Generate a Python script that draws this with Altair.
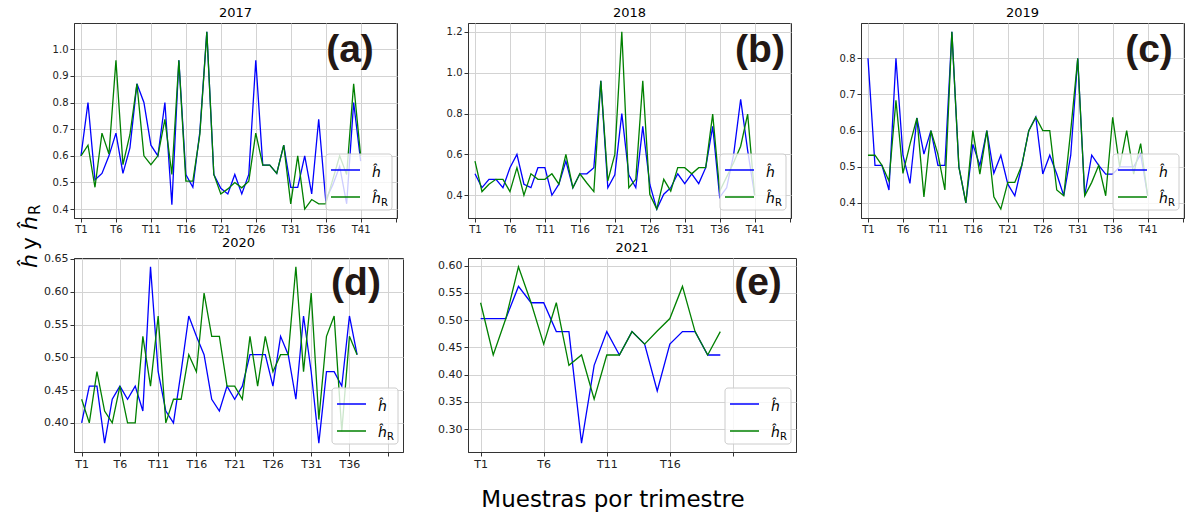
import altair as alt
import pandas as pd

# ---------------- data ----------------
years = ["2017", "2018", "2019", "2020", "2021"]
panel_tags = ["(a)", "(b)", "(c)", "(d)", "(e)"]

h_2017 = [0.60, 0.80, 0.51, 0.534, 0.60, 0.685, 0.534, 0.63, 0.87, 0.80,
          0.64, 0.60, 0.80, 0.417, 0.958, 0.53, 0.482, 0.69, 1.065, 0.53,
          0.478, 0.457, 0.53, 0.457, 0.53, 0.958, 0.565, 0.565, 0.534, 0.64,
          0.482, 0.482, 0.60, 0.457, 0.737, 0.435, 0.49, 0.56, 0.42, 0.80, 0.58]
hR_2017 = [0.60, 0.64, 0.482, 0.685, 0.607, 0.958, 0.567, 0.68, 0.87, 0.60,
           0.567, 0.60, 0.737, 0.53, 0.958, 0.505, 0.505, 0.68, 1.065, 0.53,
           0.457, 0.476, 0.50, 0.48, 0.505, 0.685, 0.565, 0.565, 0.534, 0.64,
           0.42, 0.60, 0.40, 0.436, 0.42, 0.42, 0.51, 0.60, 0.53, 0.87, 0.60]

h_2018 = [0.505, 0.437, 0.478, 0.478, 0.437, 0.535, 0.60, 0.454, 0.437, 0.535,
          0.535, 0.40, 0.454, 0.567, 0.437, 0.505, 0.505, 0.535, 0.96, 0.437,
          0.50, 0.80, 0.50, 0.437, 0.737, 0.454, 0.332, 0.405, 0.437, 0.505,
          0.457, 0.505, 0.457, 0.535, 0.737, 0.39, 0.437, 0.60, 0.87, 0.62, 0.40]
hR_2018 = [0.567, 0.418, 0.454, 0.478, 0.478, 0.418, 0.535, 0.40, 0.505, 0.478,
           0.478, 0.505, 0.454, 0.60, 0.437, 0.505, 0.46, 0.418, 0.96, 0.47,
           0.60, 1.20, 0.437, 0.478, 0.96, 0.405, 0.332, 0.478, 0.42, 0.535,
           0.535, 0.505, 0.535, 0.535, 0.797, 0.42, 0.49, 0.56, 0.64, 0.797, 0.40]

h_2019 = [0.80, 0.504, 0.504, 0.436, 0.80, 0.532, 0.454, 0.635, 0.535, 0.60,
          0.504, 0.504, 0.873, 0.50, 0.40, 0.562, 0.504, 0.60, 0.482, 0.532,
          0.452, 0.42, 0.504, 0.60, 0.637, 0.48, 0.532, 0.48, 0.42, 0.532,
          0.80, 0.42, 0.532, 0.504, 0.48, 0.48, 0.50, 0.50, 0.50, 0.535, 0.42]
hR_2019 = [0.532, 0.532, 0.504, 0.461, 0.684, 0.482, 0.562, 0.635, 0.417, 0.60,
           0.535, 0.436, 0.873, 0.50, 0.40, 0.60, 0.48, 0.60, 0.417, 0.383,
           0.457, 0.457, 0.504, 0.60, 0.637, 0.60, 0.60, 0.436, 0.42, 0.60,
           0.80, 0.42, 0.457, 0.504, 0.42, 0.637, 0.50, 0.60, 0.48, 0.564, 0.42]

h_2020 = [0.40, 0.456, 0.456, 0.369, 0.436, 0.456, 0.436, 0.456, 0.418, 0.638,
          0.478, 0.418, 0.40, 0.478, 0.563, 0.532, 0.504, 0.436, 0.418, 0.456,
          0.436, 0.456, 0.504, 0.504, 0.504, 0.456, 0.532, 0.504, 0.436, 0.563,
          0.478, 0.369, 0.478, 0.478, 0.456, 0.563, 0.504]
hR_2020 = [0.436, 0.40, 0.478, 0.418, 0.40, 0.456, 0.40, 0.40, 0.532, 0.456,
           0.563, 0.40, 0.436, 0.436, 0.504, 0.478, 0.598, 0.532, 0.532, 0.456,
           0.456, 0.436, 0.532, 0.456, 0.532, 0.478, 0.504, 0.504, 0.638, 0.478,
           0.598, 0.405, 0.532, 0.563, 0.387, 0.532, 0.504]

h_2021 = [0.503, 0.503, 0.503, 0.562, 0.532, 0.532, 0.479, 0.479, 0.274, 0.417,
          0.479, 0.436, 0.479, 0.456, 0.37, 0.456, 0.479, 0.479, 0.436, 0.436]
hR_2021 = [0.532, 0.436, 0.503, 0.598, 0.532, 0.456, 0.532, 0.417, 0.436, 0.355,
           0.436, 0.436, 0.479, 0.456, 0.48, 0.503, 0.562, 0.479, 0.436, 0.479]

yticks_2017 = [0.4, 0.5, 0.6, 0.7, 0.8, 0.9, 1.0]
yticks_2018 = [0.4, 0.6, 0.8, 1.0, 1.2]
yticks_2019 = [0.4, 0.5, 0.6, 0.7, 0.8]
yticks_2020 = [0.40, 0.45, 0.50, 0.55, 0.60, 0.65]
yticks_2021 = [0.30, 0.35, 0.40, 0.45, 0.50, 0.55, 0.60]

legend_h = "ĥ"
legend_sub = "R"
x_title = "Muestras por trimestre"
y_title_parts = ["ĥ", "y", "ĥ", "R"]

BLUE = "#0000ff"
GREEN = "#008000"
FONT = "DejaVu Sans"
one = pd.DataFrame({"k": [0]})


def deco_text(s, x, y, **kw):
    return alt.Chart(one).mark_text(text=s, **kw).encode(x=alt.value(x), y=alt.value(y))


def panel(year, tag, h, hr, W, H, xmax, xlast, yticks, yfmt, tag_x, tag_y, lab_size,
          extra=None):
    n = len(h)
    df = pd.DataFrame({"t": list(range(1, n + 1)), "h": h, "hR": hr})
    lo, hi = min(h + hr), max(h + hr)
    m = 0.05 * (hi - lo)
    xenc = alt.X(
        "t:Q",
        title=None,
        scale=alt.Scale(domain=[0, xmax], nice=False, zero=False),
        axis=alt.Axis(values=list(range(1, xlast + 1, 5)), labelFontSize=lab_size,
                      labelExpr=f"datum.value >= {xlast} ? '' : 'T' + datum.value"),
    )
    yscale = alt.Scale(domain=[lo - m, hi + m], nice=False, zero=False)
    yaxis = alt.Axis(values=yticks, format=yfmt, labelFontSize=lab_size)
    blue = alt.Chart(df).mark_line(color=BLUE, strokeWidth=1.3).encode(
        x=xenc, y=alt.Y("h:Q", title=None, scale=yscale, axis=yaxis))
    green = alt.Chart(df).mark_line(color=GREEN, strokeWidth=1.3).encode(
        x=xenc, y=alt.Y("hR:Q", title=None, scale=yscale, axis=yaxis))

    box = alt.Chart(one).mark_rect(fill="white", fillOpacity=0.8, stroke="#cccccc",
                                   strokeWidth=1, cornerRadius=3).encode(
        x=alt.value(W - 71), x2=alt.value(W - 5), y=alt.value(H - 64), y2=alt.value(H - 8))
    lb = alt.Chart(one).mark_rule(color=BLUE, strokeWidth=1.5).encode(
        x=alt.value(W - 66), x2=alt.value(W - 37), y=alt.value(H - 48))
    lg = alt.Chart(one).mark_rule(color=GREEN, strokeWidth=1.5).encode(
        x=alt.value(W - 66), x2=alt.value(W - 37), y=alt.value(H - 21))
    t1 = deco_text(legend_h, W - 25, H - 41, align="left", baseline="alphabetic",
                   font=FONT, fontSize=14, fontStyle="italic", color="#000")
    t2 = deco_text(legend_h, W - 25, H - 15, align="left", baseline="alphabetic",
                   font=FONT, fontSize=14, fontStyle="italic", color="#000")
    t3 = deco_text(legend_sub, W - 16, H - 12, align="left", baseline="alphabetic",
                   font=FONT, fontSize=10, color="#000")
    tg = deco_text(tag, tag_x, tag_y, align="center", baseline="alphabetic",
                   font="Liberation Sans", fontSize=39, fontWeight="bold", color="#231815")
    layers = [blue, green, box, lb, lg, t1, t2, t3, tg]
    if extra:
        layers += extra
    return alt.layer(*layers).properties(
        width=W, height=H,
        title=alt.TitleParams(year, font=FONT, fontSize=13, fontWeight="normal",
                              color="#000", offset=3, frame="group"),
    )


# global labels, placed relative to the first panel's plot area
anchor = alt.Chart(one).mark_rect(opacity=0).encode(
    x=alt.value(-73), x2=alt.value(-72), y=alt.value(10), y2=alt.value(11))
xt = deco_text(x_title, 539, 477, align="center", baseline="middle",
               font=FONT, fontSize=23, color="#000")
yt = [
    deco_text(y_title_parts[0], -37, 245, angle=270, align="left", baseline="alphabetic",
              font=FONT, fontSize=22, fontStyle="italic", color="#000"),
    deco_text(y_title_parts[1], -37, 227, angle=270, align="left", baseline="alphabetic",
              font=FONT, fontSize=22, color="#000"),
    deco_text(y_title_parts[2], -37, 207, angle=270, align="left", baseline="alphabetic",
              font=FONT, fontSize=22, fontStyle="italic", color="#000"),
    deco_text(y_title_parts[3], -34, 192, angle=270, align="left", baseline="alphabetic",
              font=FONT, fontSize=15, color="#000"),
]

p17 = panel(years[0], panel_tags[0], h_2017, hR_2017, 323, 195, 46.2, 46, yticks_2017, ".1f",
            276, 39, 10, extra=[anchor, xt] + yt)
p18 = panel(years[1], panel_tags[1], h_2018, hR_2018, 323, 195, 46.2, 46, yticks_2018, ".1f",
            292, 39, 10)
p19 = panel(years[2], panel_tags[2], h_2019, hR_2019, 323, 195, 46.2, 46, yticks_2019, ".1f",
            288, 39, 10)
p20 = panel(years[3], panel_tags[3], h_2020, hR_2020, 329, 194, 43, 41, yticks_2020, ".2f",
            282, 37, 11)
p21 = panel(years[4], panel_tags[4], h_2021, hR_2021, 328, 194, 26, 21, yticks_2021, ".2f",
            290, 37, 11)

chart = alt.concat(
    p17, p18, p19, p20, p21, columns=3, spacing={"row": 40, "column": 65}, bounds="flush"
).properties(
    padding={"left": 0, "top": 6, "right": 0, "bottom": 0}, background="white"
).configure_view(
    stroke="#333333", strokeWidth=1
).configure_axis(
    grid=True, gridColor="#d3d3d3", gridWidth=1,
    domainColor="#333333", tickColor="#333333", tickSize=4,
    labelFont=FONT, labelFontSize=10, labelColor="#222222", labelPadding=2,
)

chart.save("out.html", embed_options={"renderer": "svg", "actions": False})
